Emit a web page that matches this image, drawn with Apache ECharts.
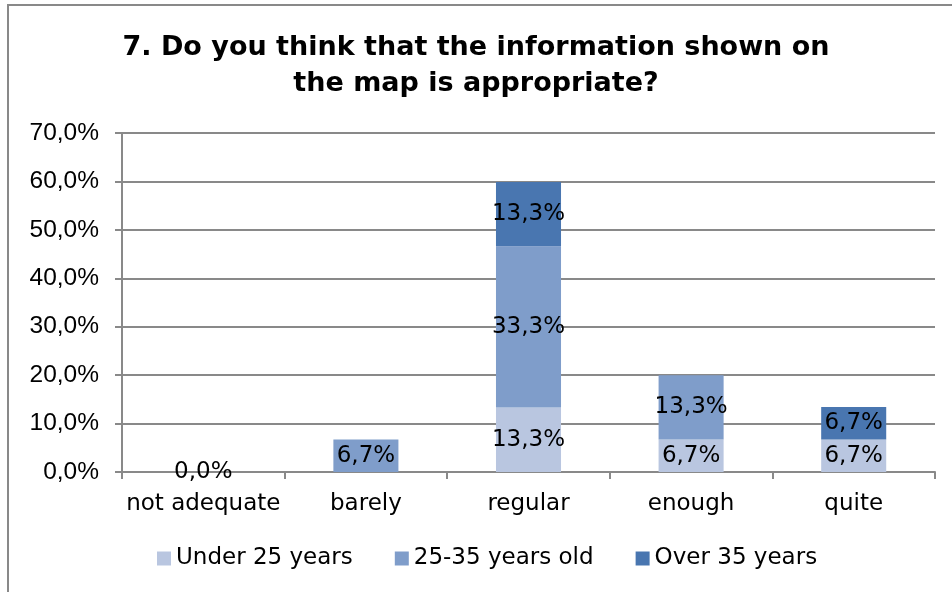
<!DOCTYPE html>
<html>
<head>
<meta charset="utf-8">
<style>
  html, body { margin: 0; padding: 0; background: #ffffff; }
  #chart { width: 952px; height: 592px; }
</style>
<script src="https://cdn.jsdelivr.net/npm/echarts@6/dist/echarts.min.js"></script>
</head>
<body>
<div id="chart"></div>
<script>
// Answer categories and share of respondents (%) per age group
const categories = ['not adequate', 'barely', 'regular', 'enough', 'quite'];
const under25 = [0.0, null, 13.3, 6.7, 6.7];
const age25to35 = [null, 6.7, 33.3, 13.3, null];
const over35 = [null, null, 13.3, null, 6.7];
const yTicks = { min: 0, max: 70, interval: 10 };

const FONT = '"DejaVu Sans", "Liberation Sans", Arial, sans-serif';
const AXIS_FONT = '"Liberation Sans", Arial, sans-serif';
const fmtPct = v => v.toFixed(1).replace('.', ',') + '%';

const chart = echarts.init(document.getElementById('chart'), null, { renderer: 'canvas' });

const labelStyle = {
  show: true,
  position: 'inside',
  color: '#000000',
  fontFamily: FONT,
  fontSize: 23,
  formatter: p => fmtPct(p.value)
};

function barSeries(name, data, color) {
  return {
    name: name,
    type: 'bar',
    stack: 'total',
    data: data,
    barWidth: '40%',
    itemStyle: { color: color },
    label: labelStyle,
    emphasis: { disabled: true }
  };
}

chart.setOption({
  animation: false,
  backgroundColor: '#ffffff',
  title: {
    text: '7. Do you think that the information shown on\nthe map is appropriate?',
    left: 'center',
    top: 25,
    textStyle: {
      fontFamily: FONT,
      fontSize: 27,
      fontWeight: 'bold',
      color: '#000000',
      lineHeight: 36
    }
  },
  legend: {
    bottom: 17,
    left: 152,
    itemWidth: 14,
    itemHeight: 14,
    itemGap: 42,
    icon: 'rect',
    textStyle: { fontFamily: FONT, fontSize: 23, color: '#000000' },
    data: ['Under 25 years', '25-35 years old', 'Over 35 years']
  },
  grid: { left: 122, right: 17, top: 133, bottom: 120, containLabel: false },
  xAxis: {
    type: 'category',
    data: categories,
    axisLine: { lineStyle: { color: '#898989', width: 2 } },
    axisTick: { show: true, length: 7, alignWithLabel: false, lineStyle: { color: '#898989', width: 2 } },
    axisLabel: { interval: 0, fontFamily: FONT, fontSize: 23, color: '#000000', margin: 21 }
  },
  yAxis: {
    type: 'value',
    min: yTicks.min,
    max: yTicks.max,
    interval: yTicks.interval,
    axisLine: { show: true, lineStyle: { color: '#898989', width: 2 } },
    axisTick: { show: true, length: 7, lineStyle: { color: '#898989', width: 2 } },
    splitLine: { show: true, lineStyle: { color: '#898989', width: 2 } },
    axisLabel: {
      fontFamily: AXIS_FONT, fontSize: 24.5, color: '#000000', margin: 23,
      formatter: v => fmtPct(v)
    }
  },
  graphic: [{
    type: 'rect',
    shape: { x: 8, y: 5, width: 960, height: 600 },
    style: { fill: null, stroke: '#898989', lineWidth: 2 },
    silent: true,
    z: -1
  }],
  series: [
    barSeries('Under 25 years', under25, '#b9c6e0'),
    barSeries('25-35 years old', age25to35, '#7f9dca'),
    barSeries('Over 35 years', over35, '#4976b0')
  ]
});
</script>
</body>
</html>
